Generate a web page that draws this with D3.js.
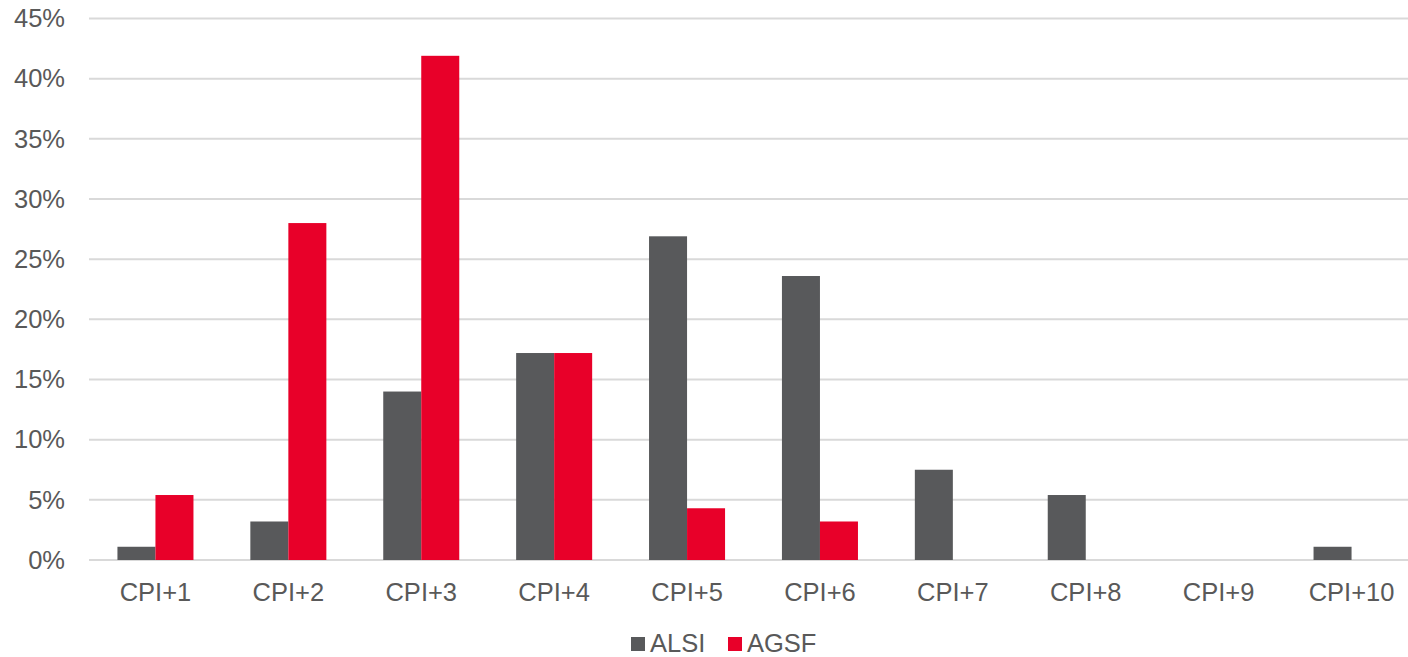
<!DOCTYPE html>
<html>
<head>
<meta charset="utf-8">
<script src="https://cdn.jsdelivr.net/npm/d3@7"></script>
<style>
  html, body { margin: 0; padding: 0; background: #ffffff; }
  svg { display: block; font-family: "Liberation Sans", Arial, sans-serif; }
</style>
</head>
<body>
<svg id="chart" width="1408" height="657"></svg>
<script>
// Share of outcomes by CPI+ target band
const categories = ["CPI+1", "CPI+2", "CPI+3", "CPI+4", "CPI+5", "CPI+6", "CPI+7", "CPI+8", "CPI+9", "CPI+10"];
const seriesNames = ["ALSI", "AGSF"];
const alsiValues = [1.1, 3.2, 14.0, 17.2, 26.9, 23.6, 7.5, 5.4, 0, 1.1];
const agsfValues = [5.4, 28.0, 41.9, 17.2, 4.3, 3.2, 0, 0, 0, 0];
const yTicks = [0, 5, 10, 15, 20, 25, 30, 35, 40, 45];
const colors = { ALSI: "#58595b", AGSF: "#e80029" };

const svg = d3.select("#chart");
const width = 1408, height = 657;
const margin = { left: 89, right: -10, top: 18.5, bottom: 97 };

const x = d3.scaleBand()
  .domain(categories)
  .range([margin.left, width - margin.right])
  .paddingInner(0.428)
  .paddingOuter(0.214);

const x1 = d3.scaleBand()
  .domain(seriesNames)
  .range([0, x.bandwidth()]);

const y = d3.scaleLinear()
  .domain([0, 45])
  .range([height - margin.bottom, margin.top]);

// Gridlines
svg.append("g")
  .selectAll("line")
  .data(yTicks)
  .join("line")
  .attr("x1", margin.left)
  .attr("x2", width)
  .attr("y1", d => y(d))
  .attr("y2", d => y(d))
  .attr("stroke", "#d9d9d9")
  .attr("stroke-width", 2);

// Y axis labels
const yAxis = d3.axisLeft(y).tickValues(yTicks).tickFormat(d => d + "%").tickSize(0).tickPadding(0);
const gy = svg.append("g").attr("transform", `translate(65,0)`).call(yAxis);
gy.select(".domain").remove();
gy.selectAll("text")
  .attr("fill", "#595959")
  .attr("font-size", 25.5)
  .attr("font-family", "Liberation Sans, Arial, sans-serif");

// Bars
const rows = categories.map((c, i) => ({ cat: c, ALSI: alsiValues[i], AGSF: agsfValues[i] }));
const groups = svg.append("g")
  .selectAll("g")
  .data(rows)
  .join("g")
  .attr("transform", d => `translate(${x(d.cat)},0)`);

groups.selectAll("rect")
  .data(d => seriesNames.map(k => ({ key: k, value: d[k] })))
  .join("rect")
  .attr("x", d => x1(d.key))
  .attr("width", x1.bandwidth())
  .attr("y", d => y(d.value))
  .attr("height", d => y(0) - y(d.value))
  .attr("fill", d => colors[d.key]);

// X axis labels
const xAxis = d3.axisBottom(x).tickSize(0).tickPadding(0);
const gx = svg.append("g").attr("transform", `translate(0,${y(0)})`).call(xAxis);
gx.select(".domain").remove();
gx.selectAll("text")
  .attr("dy", null)
  .attr("y", 41)
  .attr("fill", "#595959")
  .attr("font-size", 25.5)
  .attr("font-family", "Liberation Sans, Arial, sans-serif");

// Legend
const legend = svg.append("g");
const legendItems = [
  { name: "ALSI", sx: 631 },
  { name: "AGSF", sx: 728 }
];
legendItems.forEach(it => {
  legend.append("rect")
    .attr("x", it.sx).attr("y", 637)
    .attr("width", 14).attr("height", 14)
    .attr("fill", colors[it.name]);
  legend.append("text")
    .attr("x", it.sx + 19).attr("y", 651.5)
    .attr("fill", "#595959")
    .attr("font-size", 25.5)
    .text(it.name);
});
</script>
</body>
</html>
